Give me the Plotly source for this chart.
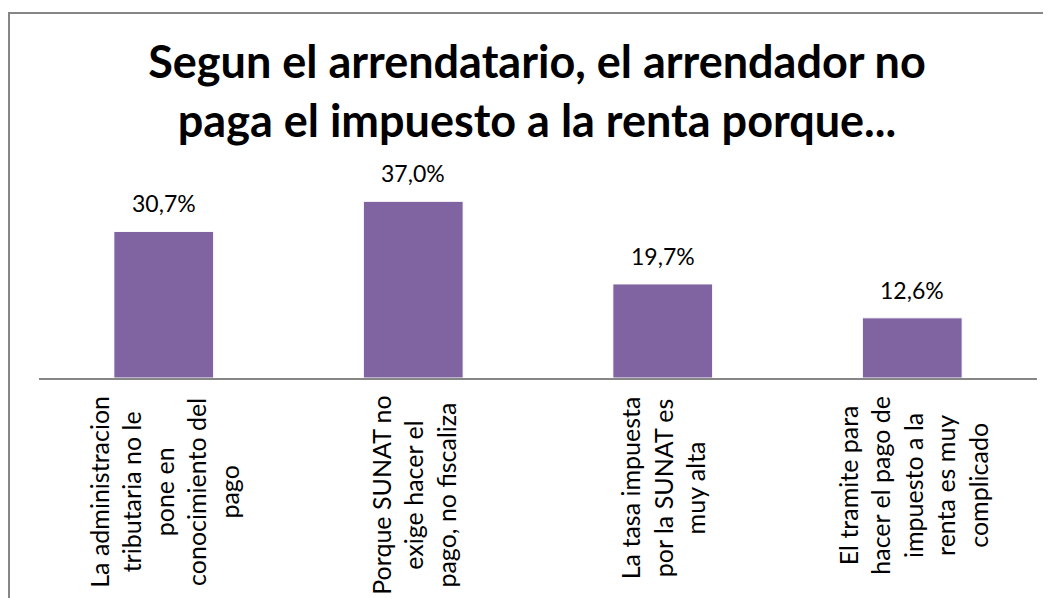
import plotly.graph_objects as go

categories = [
    "La administracion tributaria no le pone en conocimiento del pago",
    "Porque SUNAT no exige hacer el pago, no fiscaliza",
    "La tasa impuesta por la SUNAT es muy alta",
    "El tramite para hacer el pago de impuesto a la renta es muy complicado",
]
category_lines = [
    ["La administracion", "tributaria no le", "pone en", "conocimiento del", "pago"],
    ["Porque SUNAT no", "exige hacer el", "pago, no fiscaliza"],
    ["La tasa impuesta", "por la SUNAT es", "muy alta"],
    ["El tramite para", "hacer el pago de", "impuesto a la", "renta es muy", "complicado"],
]
values = [30.7, 37.0, 19.7, 12.6]
value_labels = [f"{v:.1f}".replace(".", ",") + "%" for v in values]

title_text = "Segun el arrendatario, el arrendador no<br>paga el impuesto a la renta porque..."

FONT = "Lato"
BAR = "#8064A2"
GRAY = "#868686"

# page body adds an 8px offset; positions below are in figure pixels
OFF = 8
W, H = 1051, 598
ML, MT = 39 - OFF, 187 - OFF
MR = W - (1037 - OFF)
MB = H - (378 - OFF)
plot_w = W - ML - MR
plot_h = H - MT - MB

fig = go.Figure()
fig.add_trace(go.Bar(
    x=categories, y=values, width=0.4,
    marker=dict(color=BAR, line=dict(color="white", width=1)),
    hoverinfo="skip", showlegend=False,
))

annotations = []
for c, v, lab in zip(categories, values, value_labels):
    annotations.append(dict(
        x=c, y=v, xref="x", yref="y", text=lab, showarrow=False,
        yanchor="bottom", xanchor="center", yshift=12,
        font=dict(family=FONT, size=23, color="#000000"),
    ))
for c, lines in zip(categories, category_lines):
    annotations.append(dict(
        x=c, y=0, xref="x", yref="paper", text="<br>".join(lines),
        showarrow=False, textangle=-90, align="center",
        xanchor="center", yanchor="top", yshift=-16,
        font=dict(family=FONT, size=25, color="#000000"),
    ))

# outer chart border
bx0, by0 = 9 - OFF, 13 - OFF
shapes = [dict(
    type="rect", xref="paper", yref="paper",
    x0=(bx0 - ML) / plot_w, x1=(W + 30 - ML) / plot_w,
    y0=(H - MB - (H + 30)) / plot_h, y1=(H - MB - by0) / plot_h,
    line=dict(color=GRAY, width=2), fillcolor="rgba(0,0,0,0)", layer="below",
)]

fig.update_layout(
    width=W, height=H,
    margin=dict(l=ML, r=MR, t=MT, b=MB),
    paper_bgcolor="white", plot_bgcolor="white",
    title=dict(
        text=title_text, x=(537 - OFF) / W, xanchor="center", xref="container",
        y=1 - (78 - OFF) / H, yanchor="middle", yref="container",
        font=dict(family=FONT, size=45, color="#000000", weight="bold"),
    ),
    xaxis=dict(showline=True, linecolor=GRAY, linewidth=2, showticklabels=False,
               ticks="", showgrid=False, zeroline=False, fixedrange=True),
    yaxis=dict(range=[0, 40], visible=False, showgrid=False, zeroline=False),
    annotations=annotations,
    shapes=shapes,
)

fig.write_html("out.html")
